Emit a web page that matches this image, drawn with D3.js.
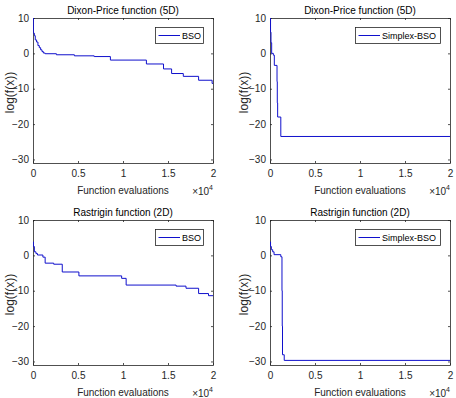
<!DOCTYPE html>
<html>
<head>
<meta charset="utf-8">
<script src="https://cdn.jsdelivr.net/npm/d3@7"></script>
<style>
  body { margin: 0; background: #fff; }
  svg { display: block; font-family: "Liberation Sans", Arial, sans-serif; }
</style>
</head>
<body>
<svg id="chart" width="456" height="398"></svg>
<script>
/* global d3 */
var xTicks = [0, 5000, 10000, 15000, 20000];
var xTickLabels = ['0', '0.5', '1', '1.5', '2'];
var yTicks = [-30, -20, -10, 0, 10];
var xDomain = [0, 20000];
var yDomain = [-31, 10];

// best-so-far log(f(x)) against function evaluations
var dixonBSO = [
    [0, 10], [40, 5.7], [150, 5.0], [250, 3.8], [400, 3.2], [550, 2.2], [700, 1.6],
    [850, 1.0], [1000, 0.5], [1150, 0.1], [1350, -0.1], [2600, -0.4], [4600, -0.7],
    [6800, -0.9], [8600, -1.9], [12600, -3.0], [14500, -4.4], [15400, -5.7],
    [16700, -6.5], [18400, -7.6], [19900, -8.5], [20000, -8.5]
];
var dixonSimplex = [
    [0, 10], [60, 6], [110, 3.0], [185, 0], [370, -0.5], [480, -3.4], [780, -8],
    [810, -14], [850, -18], [1200, -23.5], [20000, -23.5]
];
var rastriginBSO = [
    [0, 3.8], [50, 2.5], [150, 1.0], [330, 0.5], [500, 0.1], [1100, -0.5],
    [1350, -2.2], [2300, -2.5], [3250, -4.7], [5100, -5.8], [9850, -6.5],
    [10350, -8.4], [15900, -8.7], [17000, -9.3], [18400, -10.8], [19500, -11.4],
    [20000, -11.4]
];
var rastriginSimplex = [
    [0, 3.8], [60, 2.5], [150, 1.6], [300, 1.0], [450, 0.2], [1200, -0.4],
    [1330, -10], [1360, -20], [1390, -28.1], [1580, -29.7], [20000, -29.7]
];

var panels = [
    { title: 'Dixon-Price function (5D)', name: 'BSO', data: dixonBSO,
      x0: 33, x1: 213, y0: 18, y1: 163, legendW: 48, labelX: 9.5 },
    { title: 'Dixon-Price function (5D)', name: 'Simplex-BSO', data: dixonSimplex,
      x0: 270, x1: 450, y0: 18, y1: 163, legendW: 85, labelX: 244 },
    { title: 'Rastrigin function (2D)', name: 'BSO', data: rastriginBSO,
      x0: 33, x1: 213, y0: 220, y1: 365, legendW: 48, labelX: 9.5 },
    { title: 'Rastrigin function (2D)', name: 'Simplex-BSO', data: rastriginSimplex,
      x0: 270, x1: 450, y0: 220, y1: 365, legendW: 85, labelX: 244 }
];

var axisColor = '#262626';
var lineColor = '#1010cc';

var svg = d3.select('#chart');

panels.forEach(function (p, i) {
    var x = d3.scaleLinear().domain(xDomain).range([p.x0, p.x1]);
    var y = d3.scaleLinear().domain(yDomain).range([p.y1, p.y0]);
    var g = svg.append('g');

    g.append('clipPath')
        .attr('id', 'clip' + i)
        .append('rect')
            .attr('x', p.x0)
            .attr('y', p.y0)
            .attr('width', p.x1 - p.x0 + 1)
            .attr('height', p.y1 - p.y0 + 1);

    // axes with inward ticks on all four sides
    g.append('g')
        .attr('transform', 'translate(0,' + p.y1 + ')')
        .style('color', axisColor)
        .call(d3.axisBottom(x).tickValues(xTicks)
            .tickFormat(function (d, j) { return xTickLabels[j]; })
            .tickSizeInner(-2).tickSizeOuter(0).tickPadding(7));
    g.append('g')
        .attr('transform', 'translate(0,' + p.y0 + ')')
        .style('color', axisColor)
        .call(d3.axisTop(x).tickValues(xTicks).tickFormat('')
            .tickSizeInner(-2).tickSizeOuter(0));
    g.append('g')
        .attr('transform', 'translate(' + p.x0 + ',0)')
        .style('color', axisColor)
        .call(d3.axisLeft(y).tickValues(yTicks)
            .tickSizeInner(-2).tickSizeOuter(0).tickPadding(4));
    g.append('g')
        .attr('transform', 'translate(' + p.x1 + ',0)')
        .style('color', axisColor)
        .call(d3.axisRight(y).tickValues(yTicks).tickFormat('')
            .tickSizeInner(-2).tickSizeOuter(0));

    g.selectAll('.domain').remove();
    g.selectAll('.tick text')
        .attr('font-size', 10)
        .attr('font-family', '"Liberation Sans", Arial, sans-serif');
    g.selectAll('.tick line').attr('stroke-width', 0.8);

    g.append('rect')
        .attr('x', p.x0 + 0.5)
        .attr('y', p.y0 + 0.5)
        .attr('width', p.x1 - p.x0)
        .attr('height', p.y1 - p.y0)
        .attr('fill', 'none')
        .attr('stroke', axisColor)
        .attr('stroke-width', 0.8);

    var line = d3.line()
        .x(function (d) { return x(d[0]); })
        .y(function (d) { return y(d[1]); })
        .curve(d3.curveStepAfter);

    g.append('path')
        .datum(p.data)
        .attr('clip-path', 'url(#clip' + i + ')')
        .attr('d', line)
        .attr('fill', 'none')
        .attr('stroke', lineColor)
        .attr('stroke-width', 1);

    // title and labels
    g.append('text')
        .attr('x', (p.x0 + p.x1) / 2)
        .attr('y', p.y0 - 4.5)
        .attr('text-anchor', 'middle')
        .attr('font-size', 10)
        .attr('fill', '#000')
        .text(p.title);

    g.append('text')
        .attr('x', (p.x0 + p.x1) / 2)
        .attr('y', p.y1 + 30.5)
        .attr('text-anchor', 'middle')
        .attr('font-size', 10)
        .attr('fill', axisColor)
        .text('Function evaluations');

    var expo = g.append('text')
        .attr('x', p.x1)
        .attr('y', p.y1 + 32)
        .attr('text-anchor', 'end')
        .attr('font-size', 10)
        .attr('fill', axisColor);
    expo.append('tspan').text('\u00d710');
    expo.append('tspan')
        .attr('dy', -5)
        .attr('font-size', 7)
        .text('4');

    g.append('text')
        .attr('transform', 'translate(' + (p.labelX + 4.2) + ',' + ((p.y0 + p.y1) / 2 + 2) + ') rotate(-90)')
        .attr('text-anchor', 'middle')
        .attr('font-size', 12)
        .attr('fill', axisColor)
        .text('log(f(x))');

    // legend
    var lx = p.x1 - 10 - p.legendW;
    var ly = p.y0 + 9;
    var legend = g.append('g');
    legend.append('rect')
        .attr('x', Math.round(lx) + 0.5)
        .attr('y', ly + 0.5)
        .attr('width', p.legendW)
        .attr('height', 16)
        .attr('fill', '#fff')
        .attr('stroke', axisColor)
        .attr('stroke-width', 0.8);
    legend.append('line')
        .attr('x1', lx + 3.5)
        .attr('x2', lx + 25)
        .attr('y1', ly + 8.5)
        .attr('y2', ly + 8.5)
        .attr('stroke', lineColor)
        .attr('stroke-width', 1);
    legend.append('text')
        .attr('x', lx + 27)
        .attr('y', ly + 11.8)
        .attr('font-size', 9)
        .attr('fill', '#000')
        .text(p.name);
});
</script>
</body>
</html>
